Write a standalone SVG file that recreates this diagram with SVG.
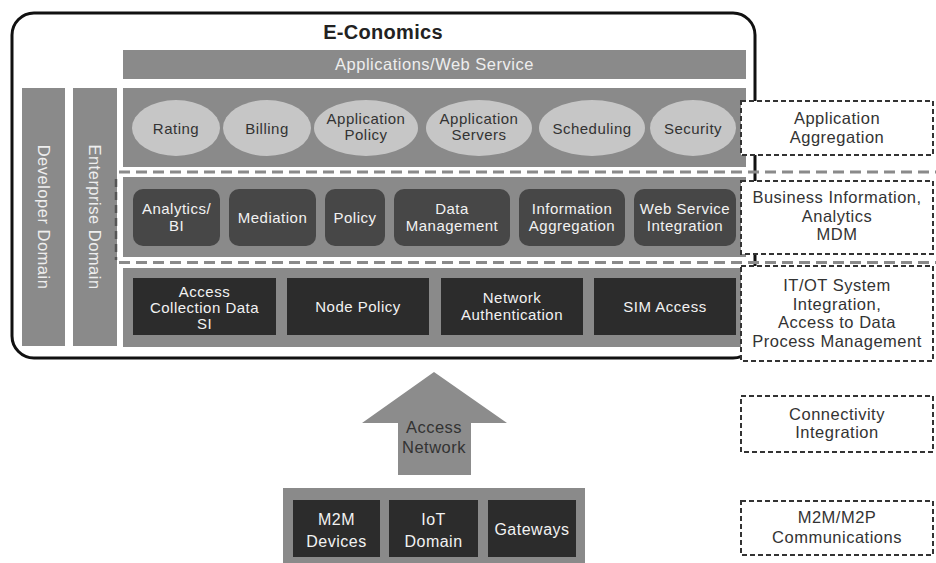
<svg xmlns="http://www.w3.org/2000/svg" width="936" height="563" viewBox="0 0 936 563">
<style>
text{font-family:"Liberation Sans",Arial,sans-serif;text-anchor:middle;letter-spacing:0.5px}
.layer{fill:#8a8a8a}
.ell{fill:#c6c6c6}
.ellt{font-size:15px;fill:#333}
.mbox{fill:#474747}
.bbox{fill:#2c2c2c}
.wt{font-size:15px;fill:#f2f2f2}
.lbl{fill:#fff;stroke:#333;stroke-width:2;stroke-dasharray:5 3}
.lblt{font-size:16.5px;fill:#333}
.sep{stroke:#8a8a8a;stroke-width:3;stroke-dasharray:11 6;fill:none}
</style>
<rect width="936" height="563" fill="#fff"/>
<g id="economics">
<rect x="12" y="13" width="743" height="345" rx="22" fill="#fff" stroke="#111" stroke-width="3"/>
<text x="383" y="39" style="font-size:20px;font-weight:bold;fill:#222;letter-spacing:0.3px">E-Conomics</text>
</g>
<g id="apps-bar">
<rect class="layer" x="123" y="50" width="623" height="29"/>
<text x="434.5" y="70" style="font-size:16.5px;fill:#eee">Applications/Web Service</text>
</g>
<g id="developer-domain">
<rect class="layer" x="22" y="88" width="43" height="258"/>
<text transform="translate(38,217) rotate(90)" style="font-size:16.5px;fill:#eee">Developer Domain</text>
</g>
<g id="enterprise-domain">
<rect class="layer" x="73" y="88" width="44" height="258"/>
<text transform="translate(89,217) rotate(90)" style="font-size:16.5px;fill:#eee">Enterprise Domain</text>
</g>
<g id="app-layer">
<rect class="layer" x="123" y="88" width="623" height="79"/>
<g id="rating"><ellipse class="ell" cx="176" cy="128" rx="44" ry="28"/><text class="ellt" x="176" y="134">Rating</text></g>
<g id="billing"><ellipse class="ell" cx="267" cy="128" rx="44" ry="28"/><text class="ellt" x="267" y="134">Billing</text></g>
<g id="application-policy"><ellipse class="ell" cx="366" cy="128" rx="52" ry="28"/><text class="ellt" x="366" y="124">Application</text><text class="ellt" x="366" y="140">Policy</text></g>
<g id="application-servers"><ellipse class="ell" cx="479" cy="128" rx="53" ry="28"/><text class="ellt" x="479" y="124">Application</text><text class="ellt" x="479" y="140">Servers</text></g>
<g id="scheduling"><ellipse class="ell" cx="592" cy="128" rx="53" ry="28"/><text class="ellt" x="592" y="134">Scheduling</text></g>
<g id="security"><ellipse class="ell" cx="693" cy="128" rx="43" ry="28"/><text class="ellt" x="693" y="134">Security</text></g>
</g>
<g id="business-layer">
<rect class="layer" x="123" y="177" width="623" height="80"/>
<g id="analytics"><rect class="mbox" x="133" y="189" width="87" height="57" rx="10"/><text class="wt" x="176.5" y="214">Analytics/</text><text class="wt" x="176.5" y="231">BI</text></g>
<g id="mediation"><rect class="mbox" x="229" y="189" width="87" height="57" rx="10"/><text class="wt" x="272.5" y="223">Mediation</text></g>
<g id="policy"><rect class="mbox" x="325" y="189" width="60" height="57" rx="10"/><text class="wt" x="355" y="223">Policy</text></g>
<g id="data-management"><rect class="mbox" x="394" y="189" width="116" height="57" rx="10"/><text class="wt" x="452" y="214">Data</text><text class="wt" x="452" y="231">Management</text></g>
<g id="information-aggregation"><rect class="mbox" x="519" y="189" width="106" height="57" rx="10"/><text class="wt" x="572" y="214">Information</text><text class="wt" x="572" y="231">Aggregation</text></g>
<g id="web-service-integration"><rect class="mbox" x="634" y="189" width="102" height="57" rx="10"/><text class="wt" x="685" y="214">Web Service</text><text class="wt" x="685" y="231">Integration</text></g>
</g>
<g id="access-layer">
<rect class="layer" x="123" y="268" width="623" height="79"/>
<g id="access-collection"><rect class="bbox" x="133" y="278" width="143" height="57"/><text class="wt" x="204.5" y="297">Access</text><text class="wt" x="204.5" y="313">Collection Data</text><text class="wt" x="204.5" y="329">SI</text></g>
<g id="node-policy"><rect class="bbox" x="287" y="278" width="142" height="57"/><text class="wt" x="358" y="312">Node Policy</text></g>
<g id="network-authentication"><rect class="bbox" x="441" y="278" width="142" height="57"/><text class="wt" x="512" y="303">Network</text><text class="wt" x="512" y="320">Authentication</text></g>
<g id="sim-access"><rect class="bbox" x="594" y="278" width="142" height="57"/><text class="wt" x="665" y="312">SIM Access</text></g>
</g>
<g id="connectors">
<line class="sep" x1="119" y1="172" x2="936" y2="172"/>
<line class="sep" x1="119" y1="262.5" x2="936" y2="262.5"/>
<line x1="116" y1="179" x2="116" y2="260" stroke="#555" stroke-width="2.5" stroke-dasharray="8 5"/>
</g>
<g id="access-network">
<polygon points="434,372 507,423 471,423 471,475 398,475 398,423 362,423" fill="#8c8c8c"/>
<text x="434" y="433" style="font-size:16.5px;fill:#333">Access</text>
<text x="434" y="453" style="font-size:16.5px;fill:#333">Network</text>
</g>
<g id="devices-layer">
<rect class="layer" x="283" y="488" width="302" height="80"/>
<g id="m2m-devices"><rect class="bbox" x="293" y="500" width="87" height="57"/><text class="wt" x="336.5" y="525" style="font-size:16px">M2M</text><text class="wt" x="336.5" y="547" style="font-size:16px">Devices</text></g>
<g id="iot-domain"><rect class="bbox" x="389" y="500" width="89" height="57"/><text class="wt" x="433.5" y="525" style="font-size:16px">IoT</text><text class="wt" x="433.5" y="547" style="font-size:16px">Domain</text></g>
<g id="gateways"><rect class="bbox" x="488" y="500" width="88" height="57"/><text class="wt" x="532" y="535" style="font-size:16px">Gateways</text></g>
</g>
<g id="label-application-aggregation">
<rect class="lbl" x="741" y="101" width="192" height="54"/>
<text class="lblt" x="837" y="124">Application</text><text class="lblt" x="837" y="143">Aggregation</text>
</g>
<g id="label-business-information">
<rect class="lbl" x="741" y="181" width="192" height="73"/>
<text class="lblt" x="837" y="203">Business Information,</text><text class="lblt" x="837" y="222">Analytics</text><text class="lblt" x="837" y="240">MDM</text>
</g>
<g id="label-itot">
<rect class="lbl" x="741" y="266" width="192" height="95"/>
<text class="lblt" x="837" y="291">IT/OT System</text><text class="lblt" x="837" y="310">Integration,</text><text class="lblt" x="837" y="328">Access to Data</text><text class="lblt" x="837" y="347">Process Management</text>
</g>
<g id="label-connectivity">
<rect class="lbl" x="741" y="396" width="192" height="56"/>
<text class="lblt" x="837" y="420">Connectivity</text><text class="lblt" x="837" y="438">Integration</text>
</g>
<g id="label-m2m">
<rect class="lbl" x="741" y="501" width="192" height="54"/>
<text class="lblt" x="837" y="523">M2M/M2P</text><text class="lblt" x="837" y="543">Communications</text>
</g>
</svg>
